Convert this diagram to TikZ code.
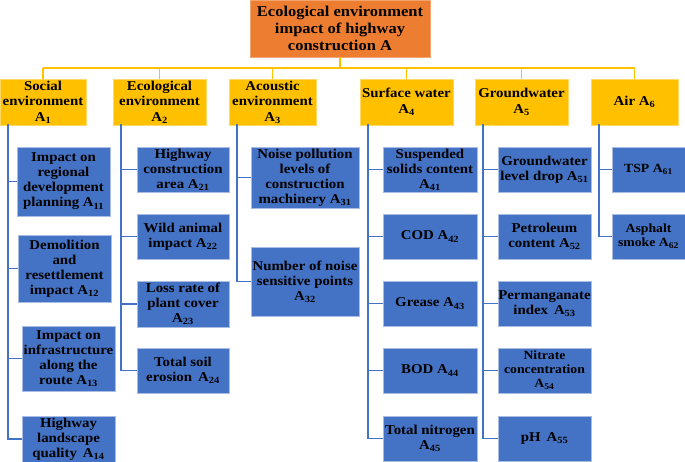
\documentclass[tikz,border=0pt]{standalone}
\usepackage{fontspec}
\setmainfont{Liberation Serif}[FakeStretch=1.1]
\usepackage{tikz}
\usetikzlibrary{positioning}
\definecolor{rootorange}{HTML}{ED7D31}
\definecolor{catyellow}{HTML}{FFC000}
\definecolor{itemblue}{HTML}{4472C4}
\definecolor{edgeblue}{HTML}{A9BDE3}
\newcommand{\Asub}[1]{A\textsubscript{#1}}

\begin{document}
\begin{tikzpicture}[x=1pt, y=-1pt,
    rootbox/.style={fill=rootorange, draw=rootorange!70!white, inner sep=0pt, align=center,
        font=\fontsize{15}{17}\selectfont\bfseries},
    catbox/.style={fill=catyellow, draw=catyellow!60!white, inner sep=0pt, align=center,
        minimum height=46pt, font=\fontsize{13.5}{15.5}\selectfont\bfseries},
    itembox/.style={fill=itemblue, draw=edgeblue, line width=0.8pt, inner sep=0pt, align=center,
        font=\fontsize{13.5}{15}\selectfont\bfseries},
    busline/.style={catyellow, line width=1.6pt},
    stemline/.style={itemblue, line width=1.6pt, line cap=rect}]
    \useasboundingbox (0,0) rectangle (685,462);

    % Title
    \node[rootbox, minimum width=180pt, minimum height=57pt] (root) at (340,28.5)
        {Ecological environment\\impact of highway\\construction A};

    % === Categories ===
    \node[catbox, minimum width=86pt] (a1) at (43,102) {Social\\environment\\\Asub{1}};
    \node[catbox, minimum width=93pt] (a2) at (159.5,102) {Ecological\\environment\\\Asub{2}};
    \node[catbox, minimum width=87pt] (a3) at (272.5,102) {Acoustic\\environment\\\Asub{3}};
    \node[catbox, minimum width=93pt] (a4) at (406.5,102) {Surface water\\\Asub{4}};
    \node[catbox, minimum width=93pt] (a5) at (521.5,102) {Groundwater\\\Asub{5}};
    \node[catbox, minimum width=87pt] (a6) at (634.5,102) {Air \Asub{6}};

    % Yellow bus
    \coordinate (bus) at (0,68);
    \draw[busline] (root.south) -- (root.south |- bus);
    \draw[busline] (a1.north |- bus) -- (a6.north |- bus);
    \foreach \c in {1,...,6}
        \draw[busline] (a\c.north |- bus) -- (a\c.north);

    % === Social environment ===
    \node[itembox, minimum width=93pt, minimum height=69pt] (a11) at (63.5,181.5)
        {Impact on\\regional\\development\\planning \Asub{11}};
    \node[itembox, minimum width=93pt, minimum height=67pt] (a12) at (64.5,268.5)
        {Demolition\\and\\resettlement\\impact \Asub{12}};
    \node[itembox, minimum width=93pt, minimum height=65pt] (a13) at (68.5,358.5)
        {Impact on\\infrastructure\\along the\\route \Asub{13}};
    \node[itembox, minimum width=93pt, minimum height=46pt] (a14) at (68.5,439)
        {Highway\\landscape\\quality\, \Asub{14}};

    % === Ecological environment ===
    \node[itembox, minimum width=92pt, minimum height=45pt] (a21) at (183,169.5)
        {Highway\\construction\\area \Asub{21}};
    \node[itembox, minimum width=92pt, minimum height=45pt] (a22) at (183,236.5)
        {Wild animal\\impact \Asub{22}};
    \node[itembox, minimum width=92pt, minimum height=46pt] (a23) at (183,304)
        {Loss rate of\\plant cover\\\Asub{23}};
    \node[itembox, minimum width=92pt, minimum height=45pt] (a24) at (183,370.5)
        {Total soil\\erosion\, \Asub{24}};

    % === Acoustic environment ===
    \node[itembox, minimum width=108pt, minimum height=61pt] (a31) at (305,177.5)
        {Noise pollution\\levels of\\construction\\machinery \Asub{31}};
    \node[itembox, minimum width=108pt, minimum height=69pt] (a32) at (305,281.5)
        {Number of noise\\sensitive points\\\Asub{32}};

    % === Surface water ===
    \node[itembox, minimum width=94pt, minimum height=45pt] (a41) at (430,169.5)
        {Suspended\\solids content\\\Asub{41}};
    \node[itembox, minimum width=94pt, minimum height=45pt] (a42) at (430,236.5) {COD \Asub{42}};
    \node[itembox, minimum width=94pt, minimum height=45pt] (a43) at (430,303.5) {Grease \Asub{43}};
    \node[itembox, minimum width=94pt, minimum height=45pt] (a44) at (430,370.5) {BOD \Asub{44}};
    \node[itembox, minimum width=94pt, minimum height=45pt] (a45) at (430,438.5)
        {Total nitrogen\\\Asub{45}};

    % === Groundwater ===
    \node[itembox, minimum width=93pt, minimum height=45pt] (a51) at (544.5,169.5)
        {Groundwater\\level drop \Asub{51}};
    \node[itembox, minimum width=93pt, minimum height=45pt] (a52) at (544.5,236.5)
        {Petroleum\\content \Asub{52}};
    \node[itembox, minimum width=93pt, minimum height=45pt] (a53) at (544.5,303.5)
        {Permanganate\\index\, \Asub{53}};
    \node[itembox, minimum width=93pt, minimum height=45pt, font=\fontsize{12.5}{14}\selectfont\bfseries]
        (a54) at (544.5,370.5) {Nitrate\\concentration\\\Asub{54}};
    \node[itembox, minimum width=93pt, minimum height=45pt] (a55) at (544.5,438.5) {pH\, \Asub{55}};

    % === Air ===
    \node[itembox, minimum width=73pt, minimum height=45pt, font=\fontsize{12.5}{14}\selectfont\bfseries]
        (a61) at (648.5,169.5) {TSP \Asub{61}};
    \node[itembox, minimum width=73pt, minimum height=45pt, font=\fontsize{12.5}{14}\selectfont\bfseries]
        (a62) at (648.5,236.5) {Asphalt\\smoke \Asub{62}};

    % Blue stems
    \foreach \c/\n in {1/4,2/4,3/2,4/5,5/5,6/2} {
        \coordinate (t\c) at ([xshift=8pt]a\c.south west);
        \draw[stemline] (t\c) -- (t\c |- a\c\n.west);
        \foreach \r in {1,...,\n}
            \draw[stemline] (t\c |- a\c\r.west) -- (a\c\r.west);
    }
\end{tikzpicture}
\end{document}
